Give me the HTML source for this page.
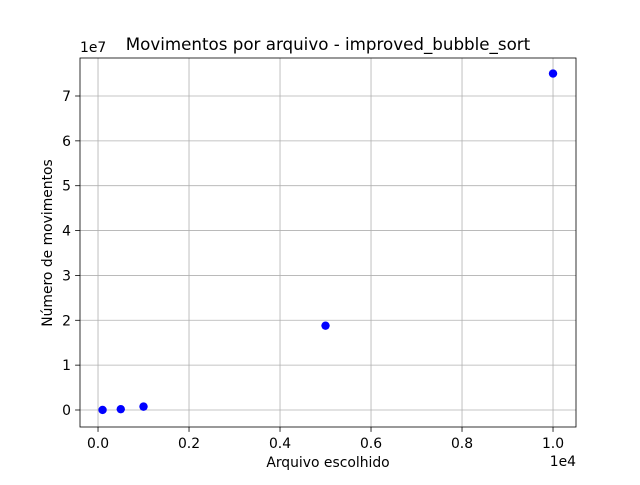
<!DOCTYPE html>
<html><head><meta charset="utf-8"><style>
body{margin:0;background:#fff;font-family:"Liberation Sans","DejaVu Sans",sans-serif}
svg text{font-family:"DejaVu Sans","Liberation Sans",sans-serif;fill:#000}
</style></head><body>
<svg id="chart" width="640" height="480" xmlns="http://www.w3.org/2000/svg"></svg>
<script>
const xValues=[100,500,1000,5000,10000];
const yValues=[7500,187500,750000,18800000,75000000];
const xTicks=[0,0.2,0.4,0.6,0.8,1.0];
const yTicks=[0,1,2,3,4,5,6,7];
const xTickLabels=["0.0","0.2","0.4","0.6","0.8","1.0"];
const yTickLabels=["0","1","2","3","4","5","6","7"];

const L=80,R=576,T=58,B=427;
const xMin=-396,xMax=10505,yMin=-0.379e7,yMax=7.847e7;
const sx=v=>L+(v-xMin)/(xMax-xMin)*(R-L);
const sy=v=>B-(v-yMin)/(yMax-yMin)*(B-T);
const svg=document.getElementById('chart');
const NS="http://www.w3.org/2000/svg";
function mk(tag,attrs,parent){const e=document.createElementNS(NS,tag);for(const k in attrs)e.setAttribute(k,attrs[k]);(parent||svg).appendChild(e);return e;}

xTicks.forEach((t,i)=>{
  const x=sx(t*1e4);
  const g=mk('line',{x1:x,x2:x,y1:T,y2:B,stroke:'#b0b0b0','stroke-width':0.8});
  
  
  mk('line',{x1:x,x2:x,y1:B,y2:B+4.9,stroke:'#000','stroke-width':0.8});
  const tx=mk('text',{x:x,y:B+21,'text-anchor':'middle','font-size':13.9});
  tx.textContent=xTickLabels[i];
  
  
});
yTicks.forEach((t,i)=>{
  const y=sy(t*1e7);
  const g=mk('line',{x1:L,x2:R,y1:y,y2:y,stroke:'#b0b0b0','stroke-width':0.8});
  
  
  mk('line',{x1:L-4.9,x2:L,y1:y,y2:y,stroke:'#000','stroke-width':0.8});
  const tx=mk('text',{x:L-9,y:y+5,'text-anchor':'end','font-size':13.9});
  tx.textContent=yTickLabels[i];
  
  
});
xValues.forEach((v,i)=>{
  const c=mk('circle',{cx:sx(v),cy:sy(yValues[i]),r:4.2,fill:'#0000ff'});
  
  
});
const fr=mk('rect',{x:L,y:T,width:R-L,height:B-T,fill:'none',stroke:'#000','stroke-width':0.8});


</script>
<svg style="position:absolute;left:0;top:0" width="640" height="480" xmlns="http://www.w3.org/2000/svg">
<text x="328" y="50" text-anchor="middle" font-size="16.7">Movimentos por arquivo - improved_bubble_sort</text>
<text x="328" y="467" text-anchor="middle" font-size="13.9">Arquivo escolhido</text>
<text x="0" y="0" transform="translate(52,243) rotate(-90)" text-anchor="middle" font-size="13.9">Número de movimentos</text>
<text x="80" y="52" font-size="13.9">1e7</text>
<text x="576" y="466" text-anchor="end" font-size="13.9">1e4</text>
</svg>
</body></html>
